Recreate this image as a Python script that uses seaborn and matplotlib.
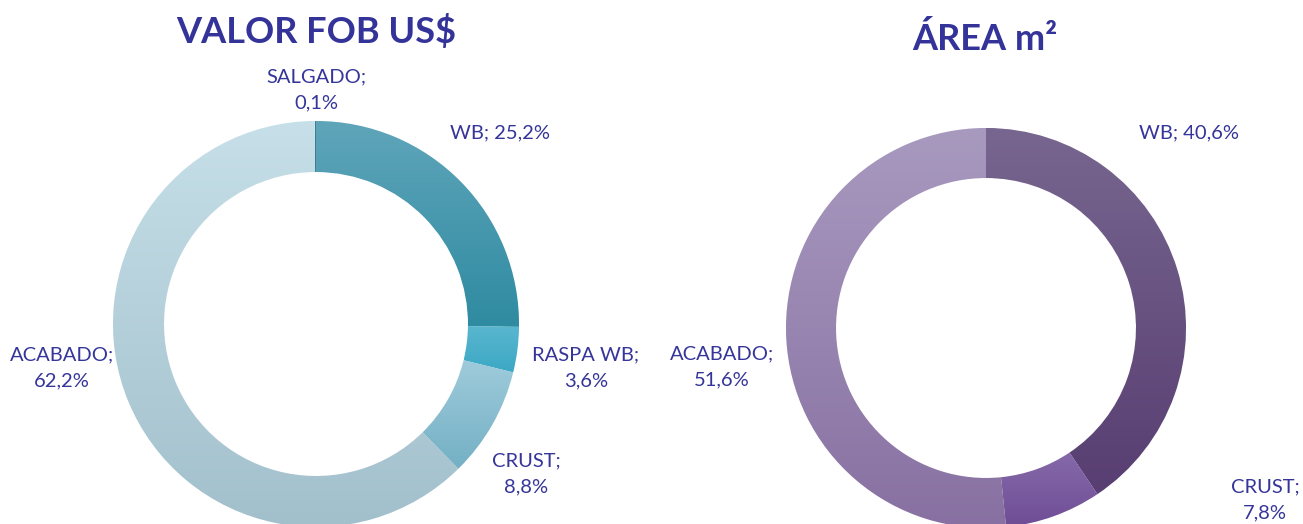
import matplotlib.pyplot as plt
import numpy as np
import seaborn as sns
from matplotlib.colors import to_rgb

# data (clockwise from 12 o'clock)
fob_labels = ['WB', 'RASPA WB', 'CRUST', 'ACABADO', 'SALGADO']
fob_values = [25.2, 3.6, 8.8, 62.2, 0.1]
area_labels = ['WB', 'CRUST', 'ACABADO']
area_values = [40.6, 7.8, 51.6]

# top / bottom colour of each segment's vertical gradient
fob_colors = [('#5fa5ba', '#2f8ba1'), ('#5ab6cf', '#3ca8c5'), ('#9ecbdb', '#74b0c4'),
              ('#c6dfe8', '#a2c0cc'), ('#3a7f94', '#3a7f94')]
area_colors = [('#77668f', '#583e72'), ('#8569a9', '#6f4d96'), ('#a899bf', '#8871a2')]

sns.set_style('white')
plt.rcParams['font.family'] = ['Lato', 'DejaVu Sans']

W, H = 1303, 524
fig = plt.figure(figsize=(W / 100, H / 100), dpi=100)
ax = fig.add_axes([0, 0, 1, 1])

text_color = '#35359a'
title_color = '#333399'


def donut(values, colors, center, radius, width):
    wedges, _ = ax.pie(values, radius=radius, center=center, startangle=90,
                       counterclock=False, colors=[c[0] for c in colors],
                       wedgeprops=dict(width=width, edgecolor='white', linewidth=0.6))
    for w, (top, bot) in zip(wedges, colors):
        ext = w.get_path().get_extents()
        grad = sns.blend_palette([bot, top], n_colors=64)
        img = np.array([to_rgb(c) for c in grad])[:, None, :]
        im = ax.imshow(img, extent=[ext.x0, ext.x1, ext.y0, ext.y1], origin='lower',
                       aspect='auto', interpolation='bilinear', zorder=w.get_zorder())
        im.set_clip_path(w)
    return wedges


donut(fob_values, fob_colors, (316, H - 324), 203, 51)
donut(area_values, area_colors, (986, H - 328), 200, 50)

ax.set_xlim(0, W)
ax.set_ylim(0, H)
ax.set_aspect('equal')
ax.axis('off')

# titles
ax.text(316, H - 31, 'VALOR FOB US$', ha='center', va='center', fontsize=26,
        fontweight='bold', color=title_color)
ax.text(985, H - 39, 'ÁREA m²', ha='center', va='center', fontsize=26,
        fontweight='bold', color=title_color)

# data labels
fob_pos = [(500, 133, 1), (586, 368, 2), (526, 474, 2), (62, 368, 2), (316, 90, 2)]
area_pos = [(1189, 133, 1), (1265, 500, 2), (722, 367, 2)]


def labels(names, values, positions):
    for name, v, (x, y, nlines) in zip(names, values, positions):
        pct = f'{v:.1f}%'.replace('.', ',')
        txt = f'{name}; {pct}' if nlines == 1 else f'{name};\n{pct}'
        ax.text(x, H - y, txt, ha='center', va='center', fontsize=14.5,
                color=text_color, linespacing=1.6)


labels(fob_labels, fob_values, fob_pos)
labels(area_labels, area_values, area_pos)

fig.savefig('out.png', dpi=100)
